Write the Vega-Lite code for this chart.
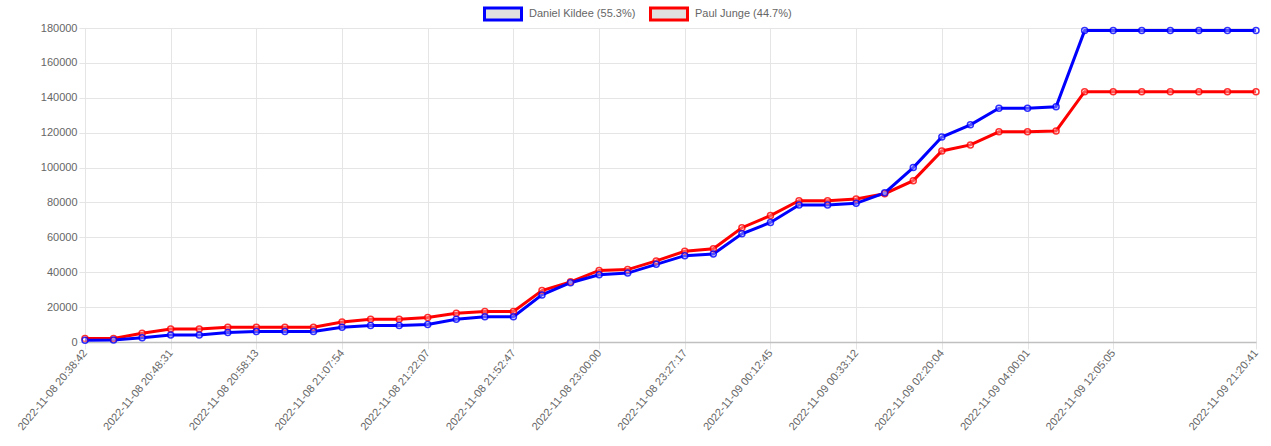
{
  "$schema": "https://vega.github.io/schema/vega-lite/v6.json",
  "autosize": {"type": "none"},
  "width": 1171,
  "height": 314,
  "padding": {"left": 85, "top": 28, "right": 15, "bottom": 104},
  "background": "#ffffff",
  "config": {
    "view": {"stroke": null},
    "font": "Liberation Sans",
    "axis": {
      "labelFont": "Liberation Sans",
      "labelFontSize": 11,
      "labelColor": "#666666",
      "gridColor": "#e5e5e5",
      "tickColor": "#e5e5e5",
      "domainColor": "#e5e5e5",
      "title": null
    }
  },
  "data": {
    "values": [
      {"time": "2022-11-08 20:38:42", "Daniel Kildee": 1000, "Paul Junge": 2000},
      {"time": "2022-11-08 20:41:58", "Daniel Kildee": 1100, "Paul Junge": 2000},
      {"time": "2022-11-08 20:45:15", "Daniel Kildee": 2500, "Paul Junge": 5000},
      {"time": "2022-11-08 20:48:31", "Daniel Kildee": 4000, "Paul Junge": 7500},
      {"time": "2022-11-08 20:51:45", "Daniel Kildee": 4000, "Paul Junge": 7500},
      {"time": "2022-11-08 20:55:00", "Daniel Kildee": 5500, "Paul Junge": 8500},
      {"time": "2022-11-08 20:58:13", "Daniel Kildee": 6000, "Paul Junge": 8500},
      {"time": "2022-11-08 21:01:27", "Daniel Kildee": 6000, "Paul Junge": 8500},
      {"time": "2022-11-08 21:04:40", "Daniel Kildee": 6000, "Paul Junge": 8500},
      {"time": "2022-11-08 21:07:54", "Daniel Kildee": 8500, "Paul Junge": 11500},
      {"time": "2022-11-08 21:12:38", "Daniel Kildee": 9500, "Paul Junge": 13000},
      {"time": "2022-11-08 21:17:22", "Daniel Kildee": 9500, "Paul Junge": 13000},
      {"time": "2022-11-08 21:22:07", "Daniel Kildee": 10000, "Paul Junge": 14000},
      {"time": "2022-11-08 21:32:20", "Daniel Kildee": 13000, "Paul Junge": 16500},
      {"time": "2022-11-08 21:42:33", "Daniel Kildee": 14500, "Paul Junge": 17500},
      {"time": "2022-11-08 21:52:47", "Daniel Kildee": 14500, "Paul Junge": 17500},
      {"time": "2022-11-08 22:15:11", "Daniel Kildee": 27000, "Paul Junge": 29500},
      {"time": "2022-11-08 22:37:35", "Daniel Kildee": 34000, "Paul Junge": 34500},
      {"time": "2022-11-08 23:00:00", "Daniel Kildee": 38500, "Paul Junge": 41000},
      {"time": "2022-11-08 23:09:05", "Daniel Kildee": 39500, "Paul Junge": 41500},
      {"time": "2022-11-08 23:18:11", "Daniel Kildee": 44500, "Paul Junge": 46500},
      {"time": "2022-11-08 23:27:17", "Daniel Kildee": 49500, "Paul Junge": 52000},
      {"time": "2022-11-08 23:42:26", "Daniel Kildee": 50500, "Paul Junge": 53500},
      {"time": "2022-11-08 23:57:35", "Daniel Kildee": 62000, "Paul Junge": 65500},
      {"time": "2022-11-09 00:12:45", "Daniel Kildee": 68500, "Paul Junge": 72500},
      {"time": "2022-11-09 00:19:34", "Daniel Kildee": 78500, "Paul Junge": 81000},
      {"time": "2022-11-09 00:26:23", "Daniel Kildee": 78500, "Paul Junge": 81000},
      {"time": "2022-11-09 00:33:12", "Daniel Kildee": 79500, "Paul Junge": 82000},
      {"time": "2022-11-09 01:08:49", "Daniel Kildee": 85500, "Paul Junge": 85000},
      {"time": "2022-11-09 01:44:26", "Daniel Kildee": 100000, "Paul Junge": 92500},
      {"time": "2022-11-09 02:20:04", "Daniel Kildee": 117500, "Paul Junge": 109500},
      {"time": "2022-11-09 02:53:23", "Daniel Kildee": 124500, "Paul Junge": 113000},
      {"time": "2022-11-09 03:26:42", "Daniel Kildee": 134000, "Paul Junge": 120500},
      {"time": "2022-11-09 04:00:01", "Daniel Kildee": 134000, "Paul Junge": 120500},
      {"time": "2022-11-09 06:41:42", "Daniel Kildee": 134800, "Paul Junge": 121000},
      {"time": "2022-11-09 09:23:23", "Daniel Kildee": 178500, "Paul Junge": 143500},
      {"time": "2022-11-09 12:05:05", "Daniel Kildee": 178500, "Paul Junge": 143500},
      {"time": "2022-11-09 13:56:12", "Daniel Kildee": 178500, "Paul Junge": 143500},
      {"time": "2022-11-09 15:47:19", "Daniel Kildee": 178500, "Paul Junge": 143500},
      {"time": "2022-11-09 17:38:26", "Daniel Kildee": 178500, "Paul Junge": 143500},
      {"time": "2022-11-09 19:29:33", "Daniel Kildee": 178500, "Paul Junge": 143500},
      {"time": "2022-11-09 21:20:41", "Daniel Kildee": 178500, "Paul Junge": 143500}
    ]
  },
  "transform": [
    {"fold": ["Paul Junge", "Daniel Kildee"], "as": ["candidate", "votes"]}
  ],
  "encoding": {
    "x": {
      "field": "time",
      "type": "ordinal",
      "sort": null,
      "scale": {"type": "point", "padding": 0},
      "axis": {
        "values": [
          "2022-11-08 20:38:42", "2022-11-08 20:48:31", "2022-11-08 20:58:13",
          "2022-11-08 21:07:54", "2022-11-08 21:22:07", "2022-11-08 21:52:47",
          "2022-11-08 23:00:00", "2022-11-08 23:27:17", "2022-11-09 00:12:45",
          "2022-11-09 00:33:12", "2022-11-09 02:20:04", "2022-11-09 04:00:01",
          "2022-11-09 12:05:05", "2022-11-09 21:20:41"
        ],
        "labelAngle": -50,
        "labelAlign": "right",
        "labelBaseline": "middle",
        "labelPadding": 2,
        "tickSize": 7,
        "grid": true,
        "domainColor": "#c0c0c0",
        "domainWidth": 1.5
      }
    },
    "y": {
      "field": "votes",
      "type": "quantitative",
      "scale": {"domain": [0, 180000], "nice": false},
      "axis": {
        "values": [0, 20000, 40000, 60000, 80000, 100000, 120000, 140000, 160000, 180000],
        "format": "d",
        "tickSize": 6,
        "labelPadding": 2,
        "grid": true
      }
    },
    "color": {
      "field": "candidate",
      "type": "nominal",
      "scale": {"domain": ["Daniel Kildee", "Paul Junge"], "range": ["#0000ff", "#ff0000"]},
      "legend": {
        "orient": "none",
        "direction": "horizontal",
        "legendX": 398,
        "legendY": -34,
        "title": null,
        "labelExpr": "datum.label == 'Daniel Kildee' ? 'Daniel Kildee (55.3%)' : 'Paul Junge (44.7%)'",
        "labelFont": "Liberation Sans",
        "labelFontSize": 11,
        "labelColor": "#666666",
        "labelOffset": 6,
        "columnPadding": 8,
        "symbolType": "M-1,-0.32H1V0.32H-1Z",
        "symbolSize": 1369,
        "symbolStrokeWidth": 3,
        "encode": {
          "symbols": {"update": {"fill": {"value": "#e0e0e0"}, "fillOpacity": {"value": 1}, "opacity": {"value": 1}}}
        }
      }
    }
  },
  "layer": [
    {"mark": {"type": "line", "strokeWidth": 3}},
    {"mark": {"type": "point", "filled": false, "size": 36, "strokeWidth": 1.5, "fill": "#ffffff", "fillOpacity": 0.4, "opacity": 0.8}}
  ]
}
